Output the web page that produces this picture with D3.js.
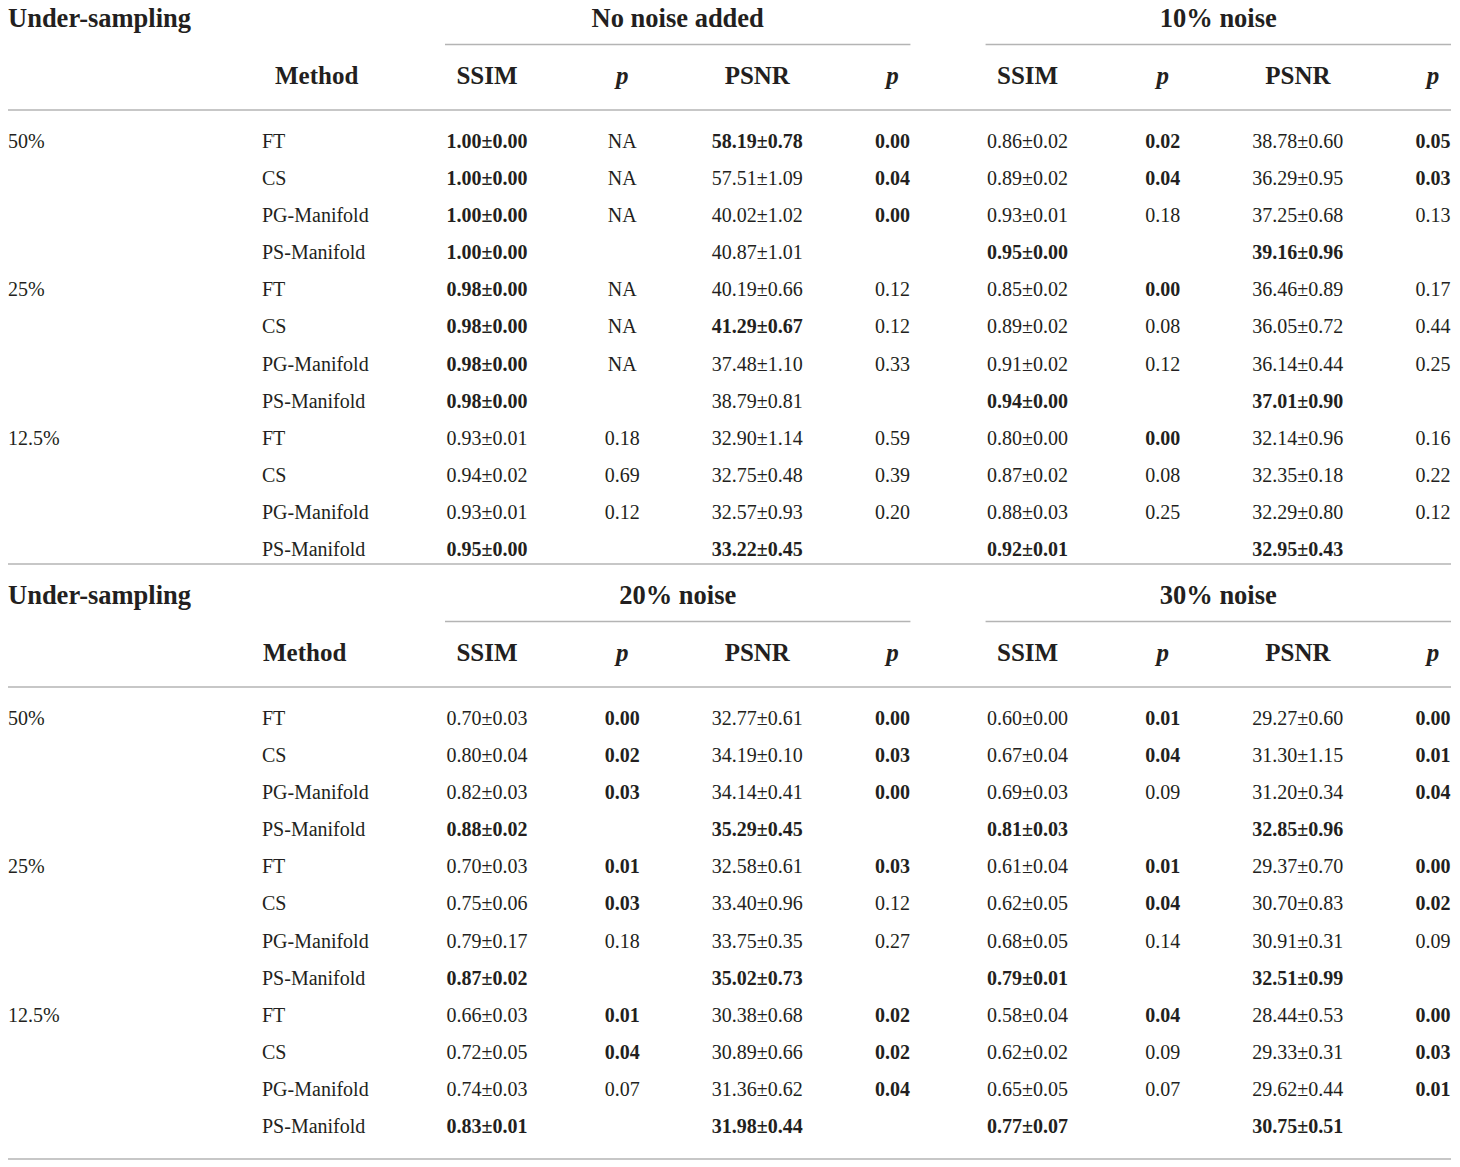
<!DOCTYPE html>
<html>
<head>
<meta charset="utf-8">
<script src="https://cdn.jsdelivr.net/npm/d3@7"></script>
<style>
  html, body { margin: 0; padding: 0; background: #fff; }
  svg { display: block; }
  text { font-family: "Liberation Serif", "Times New Roman", serif; fill: #231f20; }
</style>
</head>
<body>
<svg id="chart" width="1460" height="1167"></svg>
<script>
// ---------------- DATA ----------------
const samplingLevels = ["50%", "25%", "12.5%"];
const methods = ["FT", "CS", "PG-Manifold", "PS-Manifold"];
const noiseLevels = ["No noise added", "10% noise", "20% noise", "30% noise"];
const metricHeaders = ["SSIM", "p", "PSNR", "p"];
const rowHeaderLabel = "Under-sampling";
const methodHeaderLabel = "Method";

// rows: 50% (FT, CS, PG, PS), 25% (...), 12.5% (...)
// "NA" = not applicable, null = blank cell
const ssimMean = [
  [1.00,1.00,1.00,1.00, 0.98,0.98,0.98,0.98, 0.93,0.94,0.93,0.95],
  [0.86,0.89,0.93,0.95, 0.85,0.89,0.91,0.94, 0.80,0.87,0.88,0.92],
  [0.70,0.80,0.82,0.88, 0.70,0.75,0.79,0.87, 0.66,0.72,0.74,0.83],
  [0.60,0.67,0.69,0.81, 0.61,0.62,0.68,0.79, 0.58,0.62,0.65,0.77]
];
const ssimSD = [
  [0.00,0.00,0.00,0.00, 0.00,0.00,0.00,0.00, 0.01,0.02,0.01,0.00],
  [0.02,0.02,0.01,0.00, 0.02,0.02,0.02,0.00, 0.00,0.02,0.03,0.01],
  [0.03,0.04,0.03,0.02, 0.03,0.06,0.17,0.02, 0.03,0.05,0.03,0.01],
  [0.00,0.04,0.03,0.03, 0.04,0.05,0.05,0.01, 0.04,0.02,0.05,0.07]
];
const ssimP = [
  ["NA","NA","NA",null, "NA","NA","NA",null, 0.18,0.69,0.12,null],
  [0.02,0.04,0.18,null, 0.00,0.08,0.12,null, 0.00,0.08,0.25,null],
  [0.00,0.02,0.03,null, 0.01,0.03,0.18,null, 0.01,0.04,0.07,null],
  [0.01,0.04,0.09,null, 0.01,0.04,0.14,null, 0.04,0.09,0.07,null]
];
const psnrMean = [
  [58.19,57.51,40.02,40.87, 40.19,41.29,37.48,38.79, 32.90,32.75,32.57,33.22],
  [38.78,36.29,37.25,39.16, 36.46,36.05,36.14,37.01, 32.14,32.35,32.29,32.95],
  [32.77,34.19,34.14,35.29, 32.58,33.40,33.75,35.02, 30.38,30.89,31.36,31.98],
  [29.27,31.30,31.20,32.85, 29.37,30.70,30.91,32.51, 28.44,29.33,29.62,30.75]
];
const psnrSD = [
  [0.78,1.09,1.02,1.01, 0.66,0.67,1.10,0.81, 1.14,0.48,0.93,0.45],
  [0.60,0.95,0.68,0.96, 0.89,0.72,0.44,0.90, 0.96,0.18,0.80,0.43],
  [0.61,0.10,0.41,0.45, 0.61,0.96,0.35,0.73, 0.68,0.66,0.62,0.44],
  [0.60,1.15,0.34,0.96, 0.70,0.83,0.31,0.99, 0.53,0.31,0.44,0.51]
];
const psnrP = [
  [0.00,0.04,0.00,null, 0.12,0.12,0.33,null, 0.59,0.39,0.20,null],
  [0.05,0.03,0.13,null, 0.17,0.44,0.25,null, 0.16,0.22,0.12,null],
  [0.00,0.03,0.00,null, 0.03,0.12,0.27,null, 0.02,0.02,0.04,null],
  [0.00,0.01,0.04,null, 0.00,0.02,0.09,null, 0.00,0.03,0.01,null]
];
const significance = 0.05;

// ---------------- LAYOUT ----------------
const svg = d3.select("#chart");
const nRows = samplingLevels.length * methods.length;
const fmt = d3.format(".2f");

const colX = d3.scaleLinear().domain([0, 7]).range([487, 1433]);
const rowY = d3.scaleLinear().domain([0, nRows - 1]).range([141, 549]);

const blocks = [
  { groups: [0, 1], off: 0, bottom: 564, methodX: 275 },
  { groups: [2, 3], off: 577, bottom: 1159, methodX: 263 }
];

const lineColor = "#b4b4b4";
const titleSize = 26.5, headSize = 25, bodySize = 20;

function cellText(g, x, y, txt, bold, italic, anchor, size) {
  g.append("text")
    .attr("x", x).attr("y", y).attr("dy", "0.35em")
    .attr("text-anchor", anchor || "middle")
    .style("font-size", (size || bodySize) + "px")
    .style("font-weight", bold ? "bold" : "normal")
    .style("font-style", italic ? "italic" : "normal")
    .text(txt);
}

function groupMaxFlags(arr) {
  // bold the best value(s) within each under-sampling group
  return arr.map((v, i) => {
    const gi = Math.floor(i / methods.length);
    const slice = arr.slice(gi * methods.length, (gi + 1) * methods.length);
    return v === d3.max(slice);
  });
}

blocks.forEach(b => {
  const g = svg.append("g").attr("transform", `translate(0,${b.off})`);

  cellText(g, 8, 18, rowHeaderLabel, true, false, "start", titleSize);
  cellText(g, b.methodX, 75, methodHeaderLabel, true, false, "start", headSize);

  b.groups.forEach((ni, gi) => {
    const c0 = gi * 4;
    const left = colX(c0) - 42, right = colX(c0 + 3) + 18;
    cellText(g, (left + right) / 2, 18, noiseLevels[ni], true, false, "middle", titleSize);
    g.append("line").attr("x1", left).attr("x2", right)
      .attr("y1", 44.5).attr("y2", 44.5)
      .attr("stroke", lineColor).attr("stroke-width", 1.3);
    metricHeaders.forEach((h, k) => {
      cellText(g, colX(c0 + k), 75, h, true, h === "p", "middle", headSize);
    });

    const ssimBold = groupMaxFlags(ssimMean[ni]);
    const psnrBold = groupMaxFlags(psnrMean[ni]);
    d3.range(nRows).forEach(r => {
      const y = rowY(r);
      cellText(g, colX(c0), y, fmt(ssimMean[ni][r]) + "±" + fmt(ssimSD[ni][r]), ssimBold[r]);
      const sp = ssimP[ni][r];
      if (sp !== null) cellText(g, colX(c0 + 1), y, sp === "NA" ? "NA" : fmt(sp), sp !== "NA" && sp <= significance);
      cellText(g, colX(c0 + 2), y, fmt(psnrMean[ni][r]) + "±" + fmt(psnrSD[ni][r]), psnrBold[r]);
      const pp = psnrP[ni][r];
      if (pp !== null) cellText(g, colX(c0 + 3), y, pp === "NA" ? "NA" : fmt(pp), pp !== "NA" && pp <= significance);
    });
  });

  d3.range(nRows).forEach(r => {
    const y = rowY(r);
    if (r % methods.length === 0) cellText(g, 8, y, samplingLevels[r / methods.length], false, false, "start");
    cellText(g, 262, y, methods[r % methods.length], false, false, "start");
  });

  g.append("line").attr("x1", 8).attr("x2", 1451).attr("y1", 110).attr("y2", 110)
    .attr("stroke", lineColor).attr("stroke-width", 1.3);
  svg.append("line").attr("x1", 8).attr("x2", 1451).attr("y1", b.bottom).attr("y2", b.bottom)
    .attr("stroke", lineColor).attr("stroke-width", 1.3);
});
</script>
</body>
</html>
